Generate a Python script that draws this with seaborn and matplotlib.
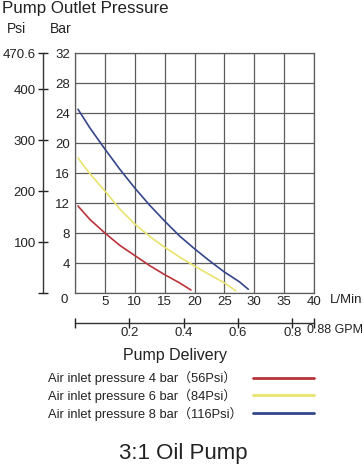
import matplotlib
matplotlib.use("Agg")
import matplotlib.pyplot as plt
import seaborn as sns
import pandas as pd

# flow (L/Min) and outlet pressure (bar)
flow_4bar = [0.5, 2.5, 5, 7.5, 10, 12.5, 15, 17.5, 19.4]
bar_4bar = [11.6, 9.8, 8.0, 6.35, 5.0, 3.65, 2.45, 1.35, 0.4]
flow_6bar = [0.5, 2.5, 5, 7.5, 10, 12.5, 15, 17.5, 20, 22.5, 25, 26.9]
bar_6bar = [18.0, 15.9, 13.6, 11.2, 9.2, 7.55, 6.1, 4.8, 3.6, 2.45, 1.35, 0.3]
flow_8bar = [0.5, 2.5, 5, 7.5, 10, 12.5, 15, 17.5, 20, 22.5, 25, 27.5, 29.0]
bar_8bar = [24.5, 22.0, 19.2, 16.5, 14.0, 11.7, 9.6, 7.6, 5.9, 4.3, 2.8, 1.5, 0.5]

series_labels = ["Air inlet pressure 4 bar（56Psi）",
                 "Air inlet pressure 6 bar（84Psi）",
                 "Air inlet pressure 8 bar（116Psi）"]
series_colors = ["#b8333a", "#e9e36e", "#34468a"]

bar_ticks = [0, 4, 8, 12, 16, 20, 24, 28, 32]
lpm_ticks = [0, 5, 10, 15, 20, 25, 30, 35, 40]
psi_ticks = [0, 100, 200, 300, 400, 470.6]
gpm_ticks = [0, 0.2, 0.4, 0.6, 0.8, 0.88]

sns.set_style("white")
plt.rcParams["font.family"] = ["Liberation Sans", "Noto Sans CJK SC", "DejaVu Sans"]
TXT = "#222222"
GRID = "#5c5c5c"
FS = 9.5

df = pd.concat([
    pd.DataFrame({"flow": f, "bar": b, "series": s})
    for f, b, s in zip([flow_4bar, flow_6bar, flow_8bar],
                       [bar_4bar, bar_6bar, bar_8bar], series_labels)
])

W, H = 364, 465
fig = plt.figure(figsize=(W / 100, H / 100), dpi=100)
ax = fig.add_axes([75 / W, (H - 293) / H, 239 / W, 240 / H])

sns.lineplot(data=df, x="flow", y="bar", hue="series", palette=dict(zip(series_labels, series_colors)),
             estimator=None, sort=False, linewidth=1.2, ax=ax)

ax.set_xlim(0, 40)
ax.set_ylim(0, 32)
ax.set_xticks(lpm_ticks)
ax.set_xticklabels([""] + [str(t) for t in lpm_ticks[1:]])
ax.set_yticks(bar_ticks)
ax.set_yticklabels([""] + [str(t) for t in bar_ticks[1:]])
ax.tick_params(length=0, labelsize=FS, colors=TXT)
ax.tick_params(axis="x", pad=2)
ax.tick_params(axis="y", pad=3.5)
ax.grid(True, color=GRID, linewidth=0.9)
for sp in ax.spines.values():
    sp.set_color(GRID)
    sp.set_linewidth(0.9)
ax.set_xlabel("")
ax.set_ylabel("")
ax.text(-0.046, -0.03, "0", transform=ax.transAxes, ha="center", va="center", fontsize=FS, color=TXT)
ax.text(1.067, -0.03, "L/Min", transform=ax.transAxes, ha="left", va="center", fontsize=FS, color=TXT)

# psi scale on the left
psi = ax.secondary_yaxis(-0.135, functions=(lambda b: b * 470.6 / 32, lambda p: p * 32 / 470.6))
psi.set_yticks(psi_ticks)
psi.set_yticklabels([""] + ["100", "200", "300", "400", "470.6"])
psi.tick_params(direction="inout", length=7, width=1, labelsize=FS, colors=TXT, pad=1.5)
psi.spines["left"].set_color("#333333")
psi.spines["left"].set_linewidth(1)

# GPM scale below
gpm = ax.secondary_xaxis(-0.125, functions=(lambda l: l * 0.88 / 40, lambda g: g * 40 / 0.88))
gpm.set_xticks(gpm_ticks)
gpm.set_xticklabels(["", "0.2", "0.4", "0.6", "0.8", ""])
gpm.tick_params(direction="inout", length=7, width=1, labelsize=FS, colors=TXT, pad=-0.5)
gpm.spines["bottom"].set_color("#333333")
gpm.spines["bottom"].set_linewidth(1)
fig.text(307 / W, 1 - 330 / H, "0.88 GPM", ha="left", va="center", fontsize=9, color=TXT)

fig.text(2 / W, 1 - 8 / H, "Pump Outlet Pressure", ha="left", va="center", fontsize=12.2, color=TXT)
fig.text(17 / W, 1 - 29 / H, "Psi", ha="center", va="center", fontsize=10, color=TXT)
fig.text(61 / W, 1 - 29 / H, "Bar", ha="center", va="center", fontsize=10, color=TXT)
fig.text(175 / W, 1 - 355 / H, "Pump Delivery", ha="center", va="center", fontsize=11.5, color=TXT)
fig.text(183 / W, 1 - 453 / H, "3:1 Oil Pump", ha="center", va="center", fontsize=16, color=TXT)

# legend: swatches on the right (aligned), labels left-aligned on the left
handles, labels = ax.get_legend_handles_labels()
ax.get_legend().remove()
leg = fig.legend(handles, [""] * len(handles), loc="upper right",
                 bbox_to_anchor=(314 / W, 1 - 373.5 / H), frameon=False, fontsize=9.3,
                 handlelength=4.7, handletextpad=0, labelspacing=0.42,
                 borderpad=0, borderaxespad=0)
for ln in leg.get_lines():
    ln.set_linewidth(2)
for i, lab in enumerate(labels):
    fig.text(48 / W, 1 - (378 + 18 * i) / H, lab, ha="left", va="center", fontsize=9.3, color=TXT)

fig.savefig("out.png", dpi=100)
